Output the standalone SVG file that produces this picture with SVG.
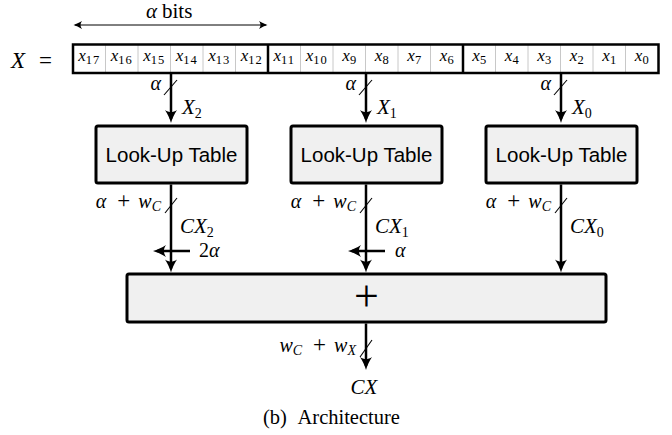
<svg xmlns="http://www.w3.org/2000/svg" width="672" height="435" viewBox="0 0 672 435">
<style>
.m{font-family:'Liberation Serif','DejaVu Serif',serif;font-style:italic;fill:#000}
.r{font-family:'Liberation Serif','DejaVu Serif',serif;font-style:normal;fill:#000}
.up{font-style:normal}
.cell{font-size:17px}
.sub{font-size:12.5px;font-style:normal}
.sub2{font-size:12.5px;font-style:normal;letter-spacing:1px}
.box{fill:#f0f0f0;stroke:#000;stroke-width:3}
.lut{font-family:'Liberation Sans',Arial,sans-serif;font-size:20.5px;text-anchor:middle;fill:#000}
.thin{stroke:#c8c8c8;stroke-width:1}
.thick{stroke:#000;stroke-width:2.5;fill:none}
.arr{stroke:#000;stroke-width:2.5;fill:none;marker-end:url(#ah)}
.sl{stroke:#000;stroke-width:1.1}
.lab{font-size:20px}
.big{font-size:21px}
.s15{font-size:14px}
</style>
<defs>
<marker id="ah" markerUnits="userSpaceOnUse" markerWidth="30" markerHeight="30" refX="0" refY="0" orient="auto" overflow="visible">
<path d="M4,0 C0,-1.2 -5,-3.2 -9,-6 C-6.2,-2 -6.2,2 -9,6 C-5,3.2 0,1.2 4,0 Z" fill="#000"/>
</marker>
<marker id="ahs" markerUnits="userSpaceOnUse" markerWidth="20" markerHeight="20" refX="0" refY="0" orient="auto-start-reverse" overflow="visible">
<path d="M1.5,0 C-1,-0.8 -4,-2.2 -7,-4 C-5,-1.5 -5,1.5 -7,4 C-4,2.2 -1,0.8 1.5,0 Z" fill="#000"/>
</marker>
</defs>
<rect width="672" height="435" fill="#fff"/>

<g id="alpha-bits">
<line x1="75" y1="25" x2="266" y2="25" stroke="#000" stroke-width="1" marker-start="url(#ahs)" marker-end="url(#ahs)"/>
<text class="m" x="146" y="18" font-size="21" font-family="Liberation Serif, serif">α<tspan class="up" dx="5">bits</tspan></text>
</g>

<g id="x-label">
<text class="m" x="11" y="68" font-size="23">X</text>
<text class="r" x="39" y="68" font-size="23">=</text>
</g>

<g id="register">
<rect x="73" y="44.5" width="585.5" height="28.5" fill="#fff"/>
<g class="thin">
<line x1="105.5" y1="45" x2="105.5" y2="72.5"/><line x1="138" y1="45" x2="138" y2="72.5"/>
<line x1="170.5" y1="45" x2="170.5" y2="72.5"/><line x1="203" y1="45" x2="203" y2="72.5"/>
<line x1="235.5" y1="45" x2="235.5" y2="72.5"/>
<line x1="300.5" y1="45" x2="300.5" y2="72.5"/><line x1="333" y1="45" x2="333" y2="72.5"/>
<line x1="365.5" y1="45" x2="365.5" y2="72.5"/><line x1="398" y1="45" x2="398" y2="72.5"/>
<line x1="430.5" y1="45" x2="430.5" y2="72.5"/>
<line x1="495.5" y1="45" x2="495.5" y2="72.5"/><line x1="528" y1="45" x2="528" y2="72.5"/>
<line x1="560.5" y1="45" x2="560.5" y2="72.5"/><line x1="593" y1="45" x2="593" y2="72.5"/>
<line x1="625.5" y1="45" x2="625.5" y2="72.5"/>
</g>
<rect x="73" y="44.5" width="585.5" height="28.5" class="thick"/>
<line x1="268" y1="44.5" x2="268" y2="73" class="thick"/>
<line x1="463" y1="44.5" x2="463" y2="73" class="thick"/>
<g class="m cell" text-anchor="middle">
<text x="89.25" y="61">x<tspan class="sub2" dy="2.5">17</tspan></text>
<text x="121.75" y="61">x<tspan class="sub2" dy="2.5">16</tspan></text>
<text x="154.25" y="61">x<tspan class="sub2" dy="2.5">15</tspan></text>
<text x="186.75" y="61">x<tspan class="sub2" dy="2.5">14</tspan></text>
<text x="219.25" y="61">x<tspan class="sub2" dy="2.5">13</tspan></text>
<text x="251.75" y="61">x<tspan class="sub2" dy="2.5">12</tspan></text>
<text x="284.25" y="61">x<tspan class="sub2" dy="2.5">11</tspan></text>
<text x="316.75" y="61">x<tspan class="sub2" dy="2.5">10</tspan></text>
<text x="349.25" y="61">x<tspan class="sub" dy="2.5">9</tspan></text>
<text x="381.75" y="61">x<tspan class="sub" dy="2.5">8</tspan></text>
<text x="414.25" y="61">x<tspan class="sub" dy="2.5">7</tspan></text>
<text x="446.75" y="61">x<tspan class="sub" dy="2.5">6</tspan></text>
<text x="479.25" y="61">x<tspan class="sub" dy="2.5">5</tspan></text>
<text x="511.75" y="61">x<tspan class="sub" dy="2.5">4</tspan></text>
<text x="544.25" y="61">x<tspan class="sub" dy="2.5">3</tspan></text>
<text x="576.75" y="61">x<tspan class="sub" dy="2.5">2</tspan></text>
<text x="609.25" y="61">x<tspan class="sub" dy="2.5">1</tspan></text>
<text x="641.75" y="61">x<tspan class="sub" dy="2.5">0</tspan></text>
</g>
</g>

<g id="lut2">
<rect class="box" x="96" y="126" width="151" height="57" rx="2"/>
<text class="lut" x="171.5" y="161.5">Look-Up Table</text>
</g>
<g id="lut1">
<rect class="box" x="291" y="126" width="151" height="57" rx="2"/>
<text class="lut" x="366.5" y="161.5">Look-Up Table</text>
</g>
<g id="lut0">
<rect class="box" x="486" y="126" width="151" height="57" rx="2"/>
<text class="lut" x="561.5" y="161.5">Look-Up Table</text>
</g>

<g id="adder">
<rect class="box" x="127" y="274" width="479" height="48" rx="2"/>
<text class="r" x="366.5" y="311" font-size="44" text-anchor="middle">+</text>
</g>

<g id="connectors">
<line class="arr" x1="171" y1="73" x2="171" y2="119"/>
<line class="arr" x1="366" y1="73" x2="366" y2="119"/>
<line class="arr" x1="561" y1="73" x2="561" y2="119"/>
<line class="sl" x1="164" y1="95" x2="177" y2="80"/>
<line class="sl" x1="359" y1="95" x2="372" y2="80"/>
<line class="sl" x1="554" y1="95" x2="567" y2="80"/>
<text class="m lab" x="161" y="90" text-anchor="end">α</text>
<text class="m lab" x="356" y="90" text-anchor="end">α</text>
<text class="m lab" x="551" y="90" text-anchor="end">α</text>
<text class="m big" x="182" y="114">X<tspan class="s15 up" dy="4">2</tspan></text>
<text class="m big" x="377" y="114">X<tspan class="s15 up" dy="4">1</tspan></text>
<text class="m big" x="572" y="114">X<tspan class="s15 up" dy="4">0</tspan></text>

<line class="arr" x1="171" y1="184.5" x2="171" y2="268.5"/>
<line class="arr" x1="366" y1="184.5" x2="366" y2="268.5"/>
<line class="arr" x1="561" y1="184.5" x2="561" y2="268.5"/>
<line class="sl" x1="165" y1="213" x2="177" y2="198"/>
<line class="sl" x1="360" y1="213" x2="372" y2="198"/>
<line class="sl" x1="555" y1="213" x2="567" y2="198"/>
<text class="m lab" x="161" y="208" text-anchor="end">α<tspan class="up" dx="11" font-size="23">+</tspan><tspan dx="8">w</tspan><tspan class="s15" dy="3">C</tspan></text>
<text class="m lab" x="356" y="208" text-anchor="end">α<tspan class="up" dx="11" font-size="23">+</tspan><tspan dx="8">w</tspan><tspan class="s15" dy="3">C</tspan></text>
<text class="m lab" x="551" y="208" text-anchor="end">α<tspan class="up" dx="11" font-size="23">+</tspan><tspan dx="8">w</tspan><tspan class="s15" dy="3">C</tspan></text>
<text class="m big" x="180" y="233">CX<tspan class="s15 up" dy="4">2</tspan></text>
<text class="m big" x="375" y="233">CX<tspan class="s15 up" dy="4">1</tspan></text>
<text class="m big" x="570" y="233">CX<tspan class="s15 up" dy="4">0</tspan></text>

<line class="arr" x1="190" y1="251" x2="157" y2="251"/>
<line class="arr" x1="385" y1="251" x2="352" y2="251"/>
<text class="m lab" x="199" y="257"><tspan class="up">2</tspan>α</text>
<text class="m lab" x="395" y="257">α</text>

<line class="arr" x1="366" y1="323.5" x2="366" y2="366"/>
<line class="sl" x1="360" y1="357" x2="372" y2="340"/>
<text class="m lab" x="356" y="352" text-anchor="end">w<tspan class="s15" dy="3">C</tspan><tspan class="up" dx="11" dy="-3" font-size="23">+</tspan><tspan dx="8">w</tspan><tspan class="s15" dy="3">X</tspan></text>
<text class="m big" x="364" y="394" text-anchor="middle">CX</text>
</g>

<g id="caption">
<text class="r" x="263" y="424" font-size="20.5">(b)</text>
<text class="r" x="297.5" y="424" font-size="20.5">Architecture</text>
</g>
</svg>
